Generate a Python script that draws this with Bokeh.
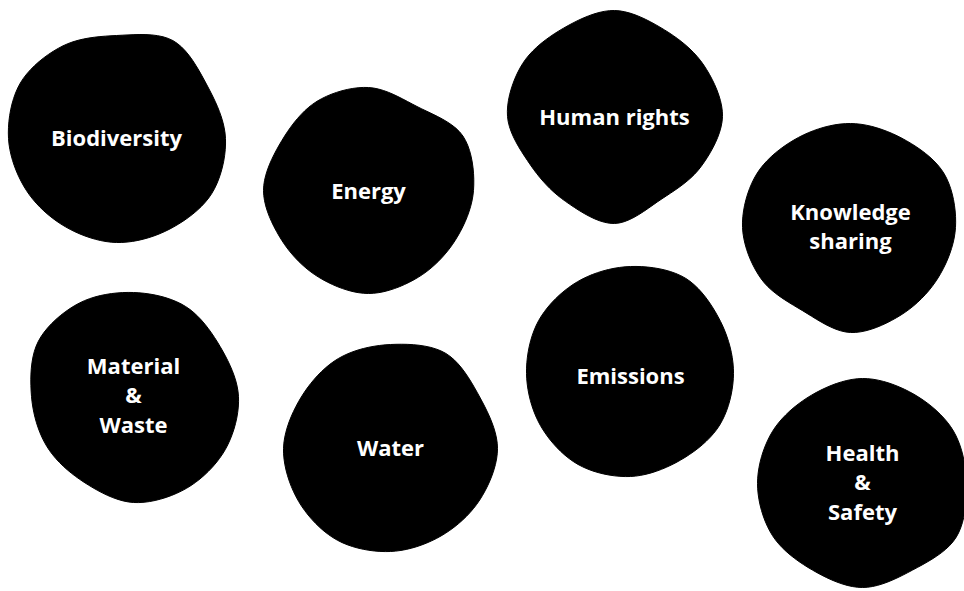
import numpy as np
from bokeh.plotting import figure
from bokeh.models import Range1d, ColumnDataSource
from bokeh.core.properties import value
from bokeh.embed import file_html
from bokeh.resources import INLINE

# ---- data (chart units = page pixels, y grows downward) ----
labels = ["Biodiversity", "Energy", "Human rights", "Knowledge\nsharing",
          "Material\n&\nWaste", "Water", "Emissions", "Health\n&\nSafety"]
center_x = [116, 368, 614, 850, 133, 390, 630, 862]
center_y = [138, 190, 116, 227, 396, 448, 373, 483]
label_y = [136, 189, 115, 225, 394, 446, 374, 481]
# radius of each blob at 0, 30, 60, ... 330 degrees (clockwise from east)
radius_profiles = [
    [109, 110, 105, 104, 102, 104, 108, 111, 107, 103, 113, 105],
    [105, 100, 100, 103, 100, 100, 105, 100, 103, 103, 97, 109],
    [108, 100, 95, 107, 98, 97, 107, 106, 102, 106, 100, 103],
    [105, 101, 101, 105, 96, 103, 108, 108, 104, 104, 103, 108],
    [105, 106, 106, 106, 99, 100, 102, 110, 108, 104, 104, 100],
    [107, 103, 101, 103, 106, 106, 107, 103, 104, 104, 110, 103],
    [103, 103, 100, 103, 105, 104, 104, 106, 106, 107, 110, 104],
    [104, 108, 100, 104, 100, 104, 105, 104, 102, 105, 103, 105],
]


def smooth_outline(cx, cy, radii, samples=10):
    n = len(radii)
    ang = np.deg2rad(np.arange(n) * 360.0 / n)
    px = cx + np.array(radii) * np.cos(ang)
    py = cy + np.array(radii) * np.sin(ang)
    xs, ys = [], []
    for i in range(n):
        p0 = np.array([px[(i - 1) % n], py[(i - 1) % n]])
        p1 = np.array([px[i], py[i]])
        p2 = np.array([px[(i + 1) % n], py[(i + 1) % n]])
        p3 = np.array([px[(i + 2) % n], py[(i + 2) % n]])
        for t in np.linspace(0, 1, samples, endpoint=False):
            t2, t3 = t * t, t * t * t
            pt = 0.5 * ((2 * p1) + (-p0 + p2) * t + (2 * p0 - 5 * p1 + 4 * p2 - p3) * t2
                        + (-p0 + 3 * p1 - 3 * p2 + p3) * t3)
            xs.append(pt[0])
            ys.append(pt[1])
    return xs, ys


outlines = [smooth_outline(cx, cy, r) for cx, cy, r in zip(center_x, center_y, radius_profiles)]
blob_src = ColumnDataSource(dict(xs=[o[0] for o in outlines], ys=[o[1] for o in outlines]))
text_src = ColumnDataSource(dict(x=center_x, y=label_y, text=labels))

W, H = 964, 591
p = figure(width=W, height=H, output_backend="svg", toolbar_location=None,
           x_range=Range1d(0, W), y_range=Range1d(H, 0))
p.min_border = 0
p.outline_line_color = None
p.axis.visible = False
p.grid.visible = False
p.background_fill_color = "white"
p.border_fill_color = "white"

p.patches("xs", "ys", source=blob_src, fill_color="black", line_color="black", line_width=1)
p.text("x", "y", text="text", source=text_src, text_color="white",
       text_font=value("Open Sans"), text_font_style="bold", text_font_size="22px",
       text_align="center", text_baseline="middle", text_line_height=0.97)

open("out.html", "w").write(file_html(p, INLINE))
